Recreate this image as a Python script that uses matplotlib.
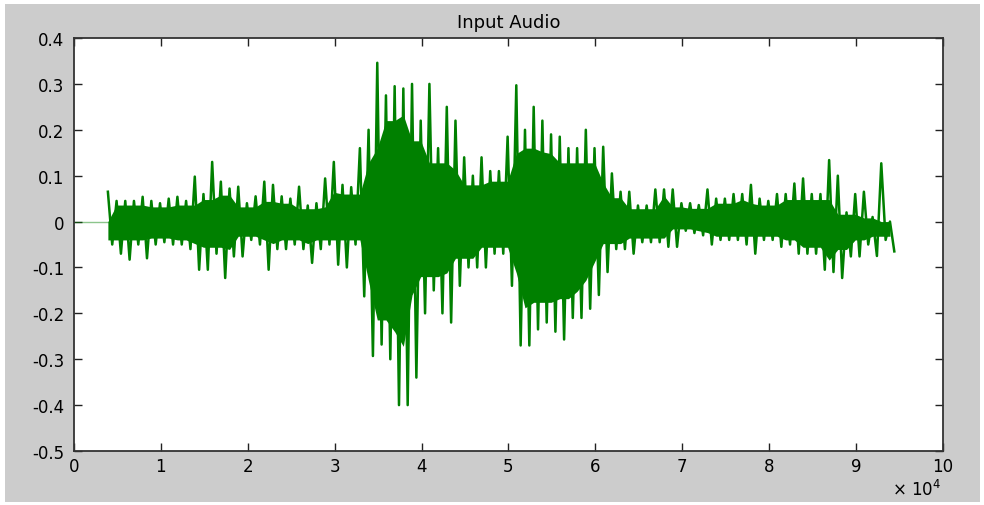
import numpy as np
import matplotlib
matplotlib.use("Agg")
import matplotlib.pyplot as plt
from matplotlib.patches import Rectangle

plt.rcParams['font.family'] = ['DejaVu Sans']
plt.rcParams['mathtext.fontset'] = 'dejavusans'

# envelope of the waveform, every 0.1 x 10^4 samples
start, step = 3900, 1000
peak_hi = [
    0.065, 0.045, 0.045, 0.045, 0.054, 0.045,
    0.040, 0.050, 0.054, 0.045, 0.098, 0.060, 0.130, 0.087, 0.072, 0.076,
    0.040, 0.055, 0.087, 0.080, 0.055, 0.050, 0.076, 0.035, 0.040, 0.094,
    0.130, 0.080, 0.075, 0.160, 0.200, 0.346, 0.275, 0.295, 0.290, 0.300,
    0.220, 0.300, 0.160, 0.250, 0.220, 0.140, 0.100, 0.140, 0.110, 0.110,
    0.185, 0.297, 0.200, 0.250, 0.220, 0.190, 0.185, 0.160, 0.160, 0.200,
    0.160, 0.163, 0.105, 0.065, 0.065, 0.035, 0.035, 0.070, 0.070, 0.070,
    0.040, 0.040, 0.036, 0.070, 0.050, 0.050, 0.060, 0.060, 0.080, 0.050,
    0.045, 0.060, 0.060, 0.083, 0.094, 0.060, 0.060, 0.134, 0.100, 0.020,
    0.060, 0.065, 0.010, 0.127, 0.000,
]
peak_lo = [
    -0.050, -0.070, -0.083, -0.050, -0.080, -0.050,
    -0.045, -0.050, -0.050, -0.060, -0.105, -0.105, -0.070, -0.123, -0.076, -0.076,
    -0.040, -0.050, -0.105, -0.060, -0.060, -0.050, -0.060, -0.090, -0.060, -0.050,
    -0.094, -0.100, -0.050, -0.163, -0.293, -0.268, -0.300, -0.400, -0.400, -0.340,
    -0.200, -0.150, -0.200, -0.220, -0.140, -0.100, -0.100, -0.100, -0.070, -0.070,
    -0.140, -0.270, -0.270, -0.235, -0.220, -0.240, -0.257, -0.210, -0.210, -0.190,
    -0.160, -0.110, -0.060, -0.060, -0.070, -0.045, -0.045, -0.045, -0.055, -0.055,
    -0.020, -0.025, -0.030, -0.050, -0.040, -0.040, -0.040, -0.050, -0.070, -0.040,
    -0.040, -0.055, -0.050, -0.070, -0.070, -0.070, -0.105, -0.110, -0.123, -0.076,
    -0.076, -0.050, -0.075, -0.040, -0.065,
]
x_ticks = list(range(0, 11))
y_ticks = [0.4, 0.3, 0.2, 0.1, 0, -0.1, -0.2, -0.3, -0.4, -0.5]
y_labels = ['0.4', '0.3', '0.2', '0.1', '0', '-0.1', '-0.2', '-0.3', '-0.4', '-0.5']

hi = np.array(peak_hi)
lo = np.array(peak_lo)
x = start + step * np.arange(len(hi))

# zigzag between the peaks, like a dense waveform
xs = np.empty(2 * len(x))
ys = np.empty(2 * len(x))
xs[0::2] = x
xs[1::2] = x + step / 2
ys[0::2] = hi
ys[1::2] = lo

# solid body: smallest neighbouring peak, a bit inside
core_hi = np.minimum(np.minimum(hi, np.roll(hi, 1)), np.roll(hi, -1)) * 0.8
core_lo = np.maximum(np.maximum(lo, np.roll(lo, 1)), np.roll(lo, -1)) * 0.8

fig = plt.figure(figsize=(9.84, 5.06), dpi=100, facecolor='white')
fig.patches.append(Rectangle((0.005, 0.006), 0.991, 0.984, transform=fig.transFigure,
                             facecolor='#cccccc', edgecolor='none', zorder=-1))
ax = fig.add_axes([0.0752, 0.1067, 0.8831, 0.8162])
ax.set_facecolor('white')

green = '#008000'
ax.plot([0, start], [0, 0], color=green, lw=1, alpha=0.45)
ax.fill_between(x, core_lo, core_hi, color=green, lw=0)
ax.plot(xs, ys, color=green, lw=1.8)

ax.set_xlim(0, 100000)
ax.set_ylim(-0.5, 0.4)
ax.set_xticks([t * 10000 for t in x_ticks])
ax.set_xticklabels([str(t) for t in x_ticks])
ax.set_yticks(y_ticks)
ax.set_yticklabels(y_labels)
ax.tick_params(direction='in', length=6, width=1, top=True, right=True,
               labelsize=12, colors='#222222', labelcolor='black')
ax.tick_params(axis='y', pad=7)
ax.tick_params(axis='x', pad=4)
for s in ax.spines.values():
    s.set_linewidth(1.3)
    s.set_color('#333333')

ax.set_title('Input Audio', fontsize=13, pad=8)
fig.text(0.957, 0.012, r'$\times\ 10^{4}$', ha='right', va='bottom', fontsize=12)

fig.savefig('out.png', dpi=100, facecolor=fig.get_facecolor())
